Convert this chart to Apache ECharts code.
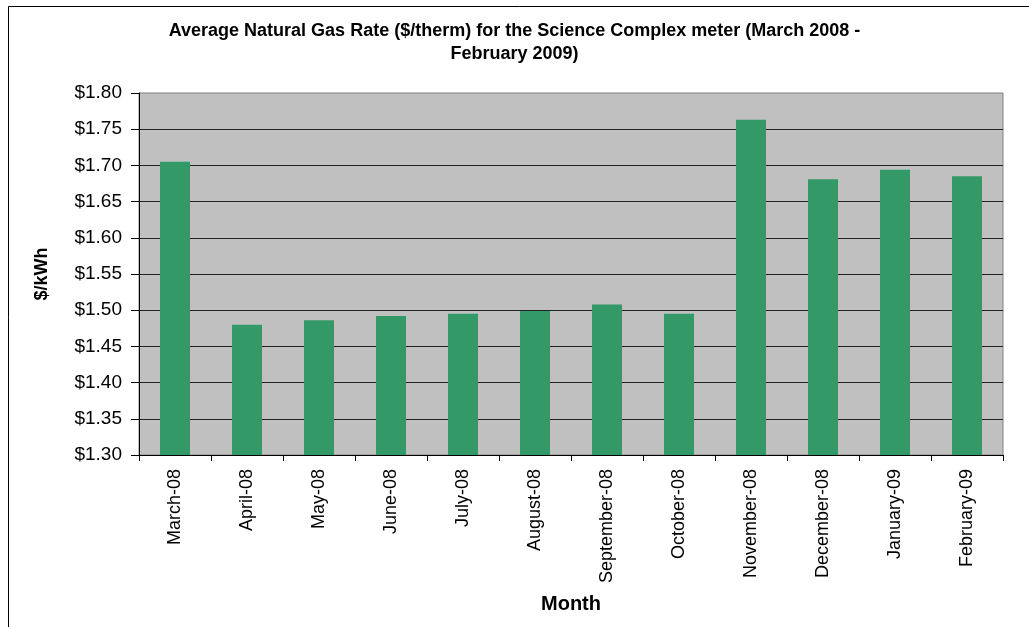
<!DOCTYPE html>
<html>
<head>
<meta charset="utf-8">
<script src="https://cdn.jsdelivr.net/npm/echarts@6/dist/echarts.min.js"></script>
<style>
  html, body { margin: 0; padding: 0; background: #fff; }
  #chart { width: 1029px; height: 627px; }
</style>
</head>
<body>
<div id="chart"></div>
<script>
  // months along the x axis
  const months = ['March-08', 'April-08', 'May-08', 'June-08', 'July-08', 'August-08',
    'September-08', 'October-08', 'November-08', 'December-08', 'January-09', 'February-09']
  // average rate per month
  const rates = [1.705, 1.480, 1.486, 1.492, 1.495, 1.499, 1.508, 1.495, 1.763, 1.681, 1.694, 1.685]
  const yMin = 1.30
  const yMax = 1.80
  const yStep = 0.05

  const font = 'Arial, "Liberation Sans", sans-serif'
  const chart = echarts.init(document.getElementById('chart'))

  chart.setOption({
    animation: false,
    backgroundColor: '#fff',
    title: {
      text: 'Average Natural Gas Rate ($/therm) for the Science Complex meter (March 2008 -\nFebruary 2009)',
      left: 'center',
      top: 15,
      textStyle: {
        fontFamily: font,
        fontSize: 18,
        fontWeight: 'bold',
        color: '#000',
        lineHeight: 23
      }
    },
    graphic: [{
      type: 'rect',
      shape: { x: 8.5, y: 6.5, width: 1100, height: 700 },
      style: { fill: null, stroke: '#000', lineWidth: 1 },
      silent: true
    }],
    grid: {
      left: 139,
      right: 26,
      top: 93,
      bottom: 172,
      show: true,
      backgroundColor: '#C0C0C0',
      borderColor: '#808080',
      borderWidth: 1
    },
    xAxis: {
      type: 'category',
      data: months,
      name: 'Month',
      nameLocation: 'middle',
      nameGap: 139,
      nameTextStyle: { fontFamily: font, fontSize: 20, fontWeight: 'bold', color: '#000' },
      axisLine: { lineStyle: { color: '#000', width: 1 } },
      axisTick: { show: true, length: 6, lineStyle: { color: '#000' } },
      axisLabel: {
        rotate: 90,
        margin: 14,
        fontFamily: font,
        fontSize: 18,
        color: '#000'
      }
    },
    yAxis: {
      type: 'value',
      min: yMin,
      max: yMax,
      interval: yStep,
      name: '$/kWh',
      nameLocation: 'middle',
      nameGap: 88,
      nameTextStyle: { fontFamily: font, fontSize: 18, fontWeight: 'bold', color: '#000' },
      axisLine: { show: true, lineStyle: { color: '#000', width: 1 } },
      axisTick: { show: true, length: 8, lineStyle: { color: '#000' } },
      axisLabel: {
        margin: 17,
        fontFamily: font,
        fontSize: 19,
        color: '#000',
        formatter: v => '$' + v.toFixed(2)
      },
      splitLine: {
        show: true,
        showMaxLine: false,
        lineStyle: { color: '#222', width: 1 }
      }
    },
    series: [{
      type: 'bar',
      data: rates,
      barWidth: 30,
      itemStyle: { color: '#339966' }
    }]
  })
</script>
</body>
</html>
